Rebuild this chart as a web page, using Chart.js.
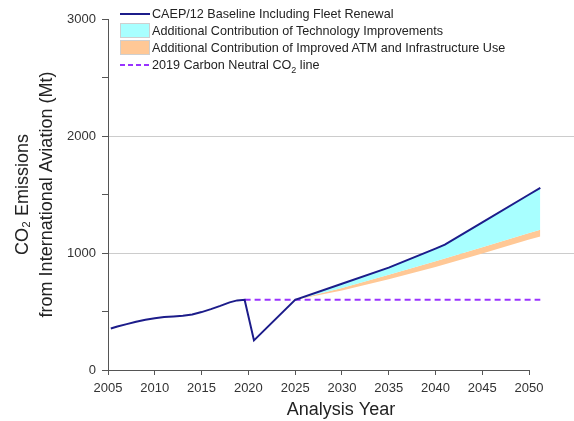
<!DOCTYPE html>
<html>
<head>
<meta charset="utf-8">
<script src="https://cdn.jsdelivr.net/npm/chart.js@4.4.0/dist/chart.umd.min.js"></script>
<style>
  body { margin: 0; background: #fff; }
  #wrap { position: relative; width: 574px; height: 421px; }
  #legend { position: absolute; left: 120px; top: 5px; font: 12.6px "Liberation Sans", Arial, sans-serif; color: #222; }
  .row { height: 17px; display: flex; align-items: center; white-space: nowrap; }
  .sample { width: 30px; margin-right: 2px; box-sizing: border-box; }
</style>
</head>
<body>
<div id="wrap">
  <canvas id="chart" width="574" height="421"></canvas>
  <div id="legend"></div>
</div>
<script>
// CAEP/12 baseline incl. fleet renewal (Mt CO2)
const baseYears  = [2005.3, 2006, 2007, 2008, 2009, 2010, 2011, 2012, 2013, 2014, 2015, 2016, 2017, 2018, 2018.8, 2019.6, 2020.6, 2025, 2030, 2035, 2040, 2041, 2045, 2050, 2051.2];
const baseValues = [355, 372, 392, 412, 430, 443, 452, 458, 463, 475, 495, 520, 548, 578, 595, 600, 253, 600, 737, 875, 1038, 1071, 1262, 1500, 1556];

// lower edge of technology band (= upper edge of ATM band)
const bandYears = [2025, 2030, 2035, 2040, 2045, 2050, 2051.2];
const techLower = [601, 700, 815, 930, 1050, 1170, 1199];
// lower edge of ATM / infrastructure band
const atmLower  = [601, 680, 775, 880, 995, 1115, 1142];

// 2019 carbon neutral line
const cnYears  = [2019.6, 2051.2];
const cnValues = [600, 600];

const xTicks = [2005, 2010, 2015, 2020, 2025, 2030, 2035, 2040, 2045, 2050];
const yTicksLabelled = [0, 1000, 2000, 3000];

const seriesNames = [
    'CAEP/12 Baseline Including Fleet Renewal',
    'Additional Contribution of Technology Improvements',
    'Additional Contribution of Improved ATM and Infrastructure Use',
    '2019 Carbon Neutral CO\u2082 line'
];

const navy = '#1c1c8a';
const cyan = '#a8ffff';
const orange = '#ffc896';
const purple = '#9933ff';

const pts = (xs, ys) => xs.map((x, i) => ({ x: x, y: ys[i] }));

// x axis line only runs from first to last tick
const axisLine = {
    id: 'axisLine',
    afterDraw(chart) {
        const xs = chart.scales.x, ys = chart.scales.y, ctx = chart.ctx;
        const yy = Math.round(ys.getPixelForValue(0)) + 0.5;
        ctx.save();
        ctx.strokeStyle = '#555';
        ctx.lineWidth = 1;
        ctx.beginPath();
        ctx.moveTo(xs.getPixelForValue(xTicks[0]), yy);
        ctx.lineTo(xs.getPixelForValue(xTicks[xTicks.length - 1]), yy);
        ctx.stroke();
        ctx.restore();
    }
};

const fontFamily = '"Liberation Sans", Arial, sans-serif';

new Chart(document.getElementById('chart').getContext('2d'), {
    type: 'line',
    data: {
        datasets: [
            {
                label: seriesNames[0],
                data: pts(baseYears, baseValues),
                borderColor: navy,
                borderWidth: 2,
                pointRadius: 0,
                tension: 0,
                fill: false,
                order: 0
            },
            {
                label: seriesNames[1],
                data: pts(bandYears, techLower),
                borderWidth: 0,
                borderColor: 'rgba(0,0,0,0)',
                backgroundColor: cyan,
                pointRadius: 0,
                fill: { target: 0 },
                order: 2
            },
            {
                label: seriesNames[2],
                data: pts(bandYears, atmLower),
                borderWidth: 0,
                borderColor: 'rgba(0,0,0,0)',
                backgroundColor: orange,
                pointRadius: 0,
                fill: { target: 1 },
                order: 3
            },
            {
                label: seriesNames[3],
                data: pts(cnYears, cnValues),
                borderColor: purple,
                borderWidth: 2,
                borderDash: [6, 4],
                pointRadius: 0,
                fill: false,
                order: 1
            }
        ]
    },
    options: {
        responsive: false,
        animation: false,
        layout: { padding: { top: 19, right: 0, left: 0, bottom: 0 } },
        plugins: {
            legend: { display: false },
            tooltip: { enabled: false }
        },
        scales: {
            x: {
                type: 'linear',
                min: 2005,
                max: 2054.8,
                afterBuildTicks: s => { s.ticks = xTicks.map(v => ({ value: v })); },
                afterFit: s => { s.height = 51; },
                border: { display: false },
                grid: { drawOnChartArea: false, tickLength: 5, tickColor: '#555' },
                ticks: {
                    padding: 6,
                    color: '#333',
                    font: { family: fontFamily, size: 13 },
                    callback: v => String(v),
                    maxRotation: 0
                },
                title: {
                    display: true,
                    text: 'Analysis Year',
                    color: '#222',
                    font: { family: fontFamily, size: 18, lineHeight: '20px' },
                    padding: { top: 0, bottom: 1 }
                }
            },
            y: {
                min: 0,
                max: 3000,
                afterFit: s => { s.width = 108; },
                border: { color: '#555' },
                grid: {
                    color: c => (c.tick && c.tick.value % 1000 === 0 && c.tick.value > 0 && c.tick.value < 3000) ? '#cccccc' : 'rgba(0,0,0,0)',
                    tickColor: '#555',
                    tickLength: 6
                },
                ticks: {
                    stepSize: 500,
                    padding: 6,
                    color: '#333',
                    font: { family: fontFamily, size: 13 },
                    callback: v => yTicksLabelled.includes(v) ? String(v) : ''
                },
                title: {
                    display: true,
                    text: ['CO\u2082 Emissions', 'from International Aviation (Mt)'],
                    color: '#222',
                    font: { family: fontFamily, size: 18, lineHeight: '24px' },
                    padding: { top: 11, bottom: 0 }
                }
            }
        }
    },
    plugins: [axisLine]
});

// legend in the top-left of the plot
const samples = [
    '<div class="sample" style="height:2px;background:' + navy + '"></div>',
    '<div class="sample" style="height:15px;background:' + cyan + ';border:1px solid #cfcfcf"></div>',
    '<div class="sample" style="height:15px;background:' + orange + ';border:1px solid #cfcfcf"></div>',
    '<div class="sample" style="height:2px;background:repeating-linear-gradient(to right,' + purple + ' 0 5px,transparent 5px 8px)"></div>'
];
document.getElementById('legend').innerHTML = seriesNames.map((name, i) => {
    const txt = name.replace('CO\u2082', 'CO<sub style="font-size:9px;line-height:0">2</sub>');
    return '<div class="row">' + samples[i] + '<span>' + txt + '</span></div>';
}).join('');
</script>
</body>
</html>
